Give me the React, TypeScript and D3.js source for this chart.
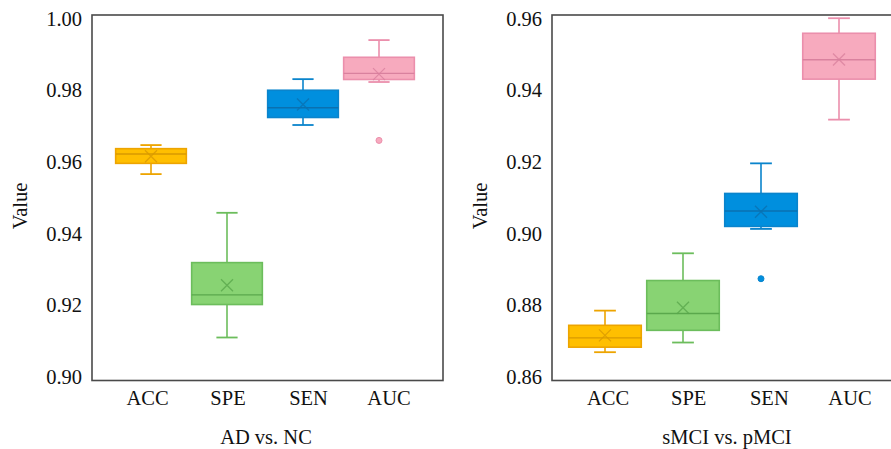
import React, { useEffect, useRef } from "react";
import * as d3 from "d3";

const categories = ["ACC", "SPE", "SEN", "AUC"];

// AD vs. NC
const adLow = [0.9566, 0.911, 0.9703, 0.9823];
const adQ1 = [0.9596, 0.9202, 0.9724, 0.983];
const adMedian = [0.9622, 0.9229, 0.9751, 0.9847];
const adQ3 = [0.9637, 0.9319, 0.98, 0.9892];
const adHigh = [0.9647, 0.9458, 0.9831, 0.994];
const adMean = [0.9616, 0.9256, 0.976, 0.9845];
const adOutliers = [[], [], [], [0.966]];
const adTicks = [0.9, 0.92, 0.94, 0.96, 0.98, 1.0];

// sMCI vs. pMCI
const mciLow = [0.8669, 0.8696, 0.9013, 0.9318];
const mciQ1 = [0.8683, 0.873, 0.902, 0.9431];
const mciMedian = [0.8709, 0.8777, 0.9063, 0.9485];
const mciQ3 = [0.8744, 0.8869, 0.9112, 0.9559];
const mciHigh = [0.8785, 0.8945, 0.9196, 0.9601];
const mciMean = [0.8716, 0.8793, 0.9061, 0.9486];
const mciOutliers = [[], [], [0.8874], []];
const mciTicks = [0.86, 0.88, 0.9, 0.92, 0.94, 0.96];

const fills = ["#ffbf00", "#88d373", "#008fde", "#f7aabe"];
const strokes = ["#eda400", "#6cbd5c", "#0a84cc", "#eb8fac"];
const darks = ["#d99a00", "#5aa84c", "#0a70b0", "#d9819e"];

const FONT = "'Liberation Serif', 'Times New Roman', serif";

const drawPanel = (svg, o) => {
  const top = 15;
  const bottom = 380.5;

  const y = d3.scaleLinear().domain(o.domain).range([bottom, top]);
  const x = d3
    .scaleBand()
    .domain(categories)
    .range(o.boxRange)
    .paddingInner(0.07)
    .paddingOuter(0.035);
  const xl = d3.scalePoint().domain(categories).range(o.labelRange);

  const g = svg.append("g");

  // frame
  g.append("rect")
    .attr("x", o.left)
    .attr("y", top)
    .attr("width", o.right - o.left)
    .attr("height", bottom - top)
    .attr("fill", "none")
    .attr("stroke", "#4a4a4a")
    .attr("stroke-width", 1.6);

  // y tick labels
  g.selectAll(".ytick")
    .data(o.ticks)
    .join("text")
    .attr("x", o.left - 10)
    .attr("y", (d) => y(d) + 7)
    .attr("text-anchor", "end")
    .attr("font-family", FONT)
    .attr("font-size", 20.5)
    .attr("fill", "#111")
    .text((d) => d3.format(".2f")(d));

  // x labels
  g.selectAll(".xlab")
    .data(categories)
    .join("text")
    .attr("x", (d) => xl(d))
    .attr("y", 405)
    .attr("text-anchor", "middle")
    .attr("font-family", FONT)
    .attr("font-size", 20.5)
    .attr("fill", "#111")
    .text((d) => d);

  g.append("text")
    .attr("x", o.titleX)
    .attr("y", 444)
    .attr("text-anchor", "middle")
    .attr("font-family", FONT)
    .attr("font-size", 20.5)
    .attr("fill", "#111")
    .text(o.title);

  g.append("text")
    .attr("transform", `translate(${o.valueX}, 206) rotate(-90)`)
    .attr("text-anchor", "middle")
    .attr("font-family", FONT)
    .attr("font-size", 20.5)
    .attr("fill", "#111")
    .text("Value");

  const bw = x.bandwidth();
  const cap = bw * 0.3;

  const box = g
    .selectAll(".box")
    .data(categories)
    .join("g")
    .attr("transform", (d) => `translate(${x(d)}, 0)`);

  // whiskers
  box
    .append("line")
    .attr("x1", bw / 2)
    .attr("x2", bw / 2)
    .attr("y1", (d, i) => y(o.high[i]))
    .attr("y2", (d, i) => y(o.low[i]))
    .attr("stroke", (d, i) => strokes[i])
    .attr("stroke-width", 1.6);
  box
    .append("line")
    .attr("x1", bw / 2 - cap / 2)
    .attr("x2", bw / 2 + cap / 2)
    .attr("y1", (d, i) => y(o.high[i]))
    .attr("y2", (d, i) => y(o.high[i]))
    .attr("stroke", (d, i) => strokes[i])
    .attr("stroke-width", 1.8);
  box
    .append("line")
    .attr("x1", bw / 2 - cap / 2)
    .attr("x2", bw / 2 + cap / 2)
    .attr("y1", (d, i) => y(o.low[i]))
    .attr("y2", (d, i) => y(o.low[i]))
    .attr("stroke", (d, i) => strokes[i])
    .attr("stroke-width", 1.8);

  box
    .append("rect")
    .attr("x", 0)
    .attr("width", bw)
    .attr("y", (d, i) => y(o.q3[i]))
    .attr("height", (d, i) => y(o.q1[i]) - y(o.q3[i]))
    .attr("fill", (d, i) => fills[i])
    .attr("stroke", (d, i) => strokes[i])
    .attr("stroke-width", 1.6);

  box
    .append("line")
    .attr("x1", 0)
    .attr("x2", bw)
    .attr("y1", (d, i) => y(o.median[i]))
    .attr("y2", (d, i) => y(o.median[i]))
    .attr("stroke", (d, i) => darks[i])
    .attr("stroke-width", 1.4);

  // mean marker
  const m = 6;
  box
    .append("path")
    .attr("d", (d, i) => {
      const cx = bw / 2;
      const cy = y(o.mean[i]);
      return `M${cx - m},${cy - m}L${cx + m},${cy + m}M${cx - m},${cy + m}L${cx + m},${cy - m}`;
    })
    .attr("stroke", (d, i) => darks[i])
    .attr("stroke-opacity", 0.8)
    .attr("stroke-width", 1.3)
    .attr("fill", "none");

  // outliers
  box.each(function (d, i) {
    d3.select(this)
      .selectAll("circle")
      .data(o.outliers[i])
      .join("circle")
      .attr("cx", bw / 2)
      .attr("cy", (v) => y(v))
      .attr("r", 3)
      .attr("fill", fills[i])
      .attr("stroke", strokes[i])
      .attr("stroke-width", 1);
  });
};

const App = () => {
  const ref = useRef(null);

  useEffect(() => {
    d3.select(ref.current).selectAll("*").remove();
    const svg = d3.select(ref.current);

    drawPanel(svg, {
      domain: [0.899, 1.001],
      ticks: adTicks,
      left: 92,
      right: 443,
      boxRange: [113, 417],
      labelRange: [147.5, 389],
      titleX: 266,
      valueX: 27,
      title: "AD vs. NC",
      low: adLow,
      q1: adQ1,
      median: adMedian,
      q3: adQ3,
      high: adHigh,
      mean: adMean,
      outliers: adOutliers,
    });

    drawPanel(svg, {
      domain: [0.859, 0.961],
      ticks: mciTicks,
      left: 552,
      right: 898,
      boxRange: [566, 878],
      labelRange: [608, 850],
      titleX: 727,
      valueX: 487,
      title: "sMCI vs. pMCI",
      low: mciLow,
      q1: mciQ1,
      median: mciMedian,
      q3: mciQ3,
      high: mciHigh,
      mean: mciMean,
      outliers: mciOutliers,
    });
  }, []);

  return (
    <svg
      ref={ref}
      width={891}
      height={449}
      style={{ position: "absolute", left: 0, top: 0, background: "#fff" }}
    />
  );
};

export default App;
